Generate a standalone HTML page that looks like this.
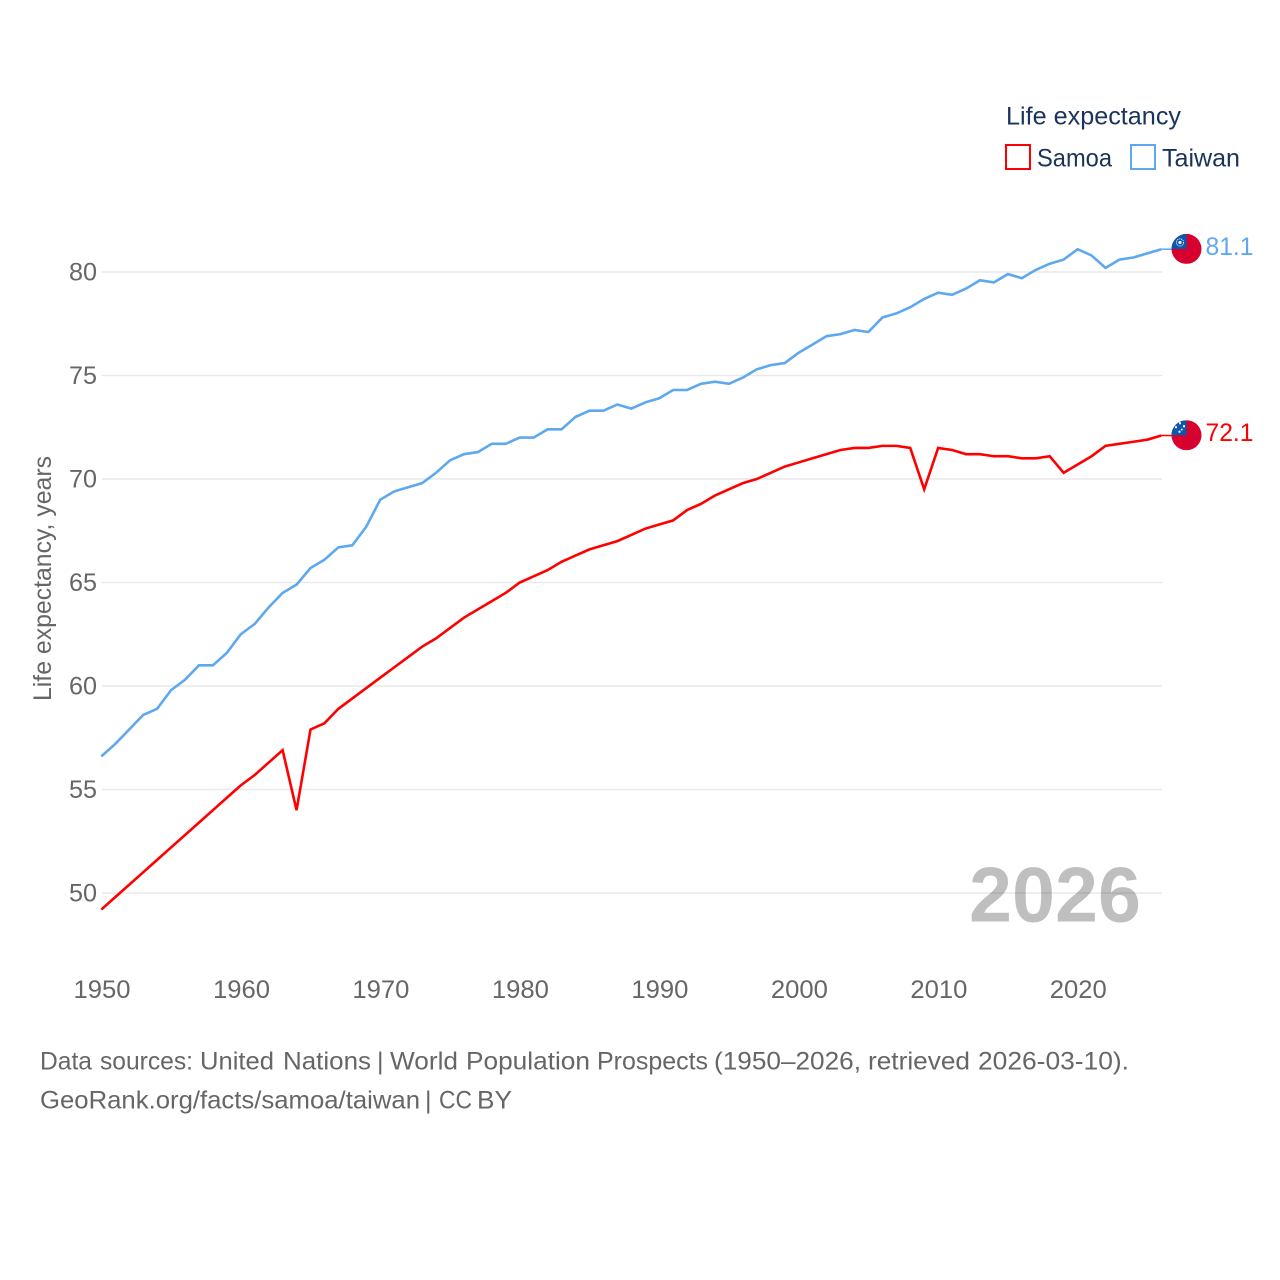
<!DOCTYPE html>
<html lang="en">
<head>
<meta charset="utf-8">
<title>Life expectancy: Samoa and Taiwan</title>
<style>
html,body{margin:0;padding:0;background:#fff;width:1280px;height:1280px;overflow:hidden}
svg{display:block}
text{font-family:"Liberation Sans",sans-serif}
</style>
</head>
<body>
<svg id="chart" width="1280" height="1280" viewBox="0 0 1280 1280" xmlns="http://www.w3.org/2000/svg">
  <defs>
    <clipPath id="flag-clip"><circle cx="0" cy="0" r="15"></circle></clipPath>
  </defs>
  <rect width="1280" height="1280" fill="#fff"></rect>
  <g id="grid"></g>
  <g id="yticks"></g>
  <g id="xticks"></g>
  <text transform="translate(51,701) rotate(-90)" font-size="25" fill="#666" textLength="245" lengthAdjust="spacingAndGlyphs">Life expectancy, years</text>
  <text x="969" y="921.5" font-size="78" font-weight="700" fill="#000" fill-opacity="0.25" textLength="172" lengthAdjust="spacingAndGlyphs">2026</text>
  <g id="series"></g>

  <g id="flag-taiwan">
    <g clip-path="url(#flag-clip)">
      <rect x="-15" y="-15" width="30" height="30" fill="#d8002f"></rect>
      <rect x="-15" y="-15" width="15" height="15" fill="#0b57ad"></rect>
      <circle cx="-6.5" cy="-6.5" r="3.6" fill="none" stroke="#dfe8f5" stroke-width="1" stroke-dasharray="1.2 0.8"></circle>
      <circle cx="-6.5" cy="-6.5" r="1.6" fill="#fff"></circle>
    </g>
  </g>
  <g id="flag-samoa">
    <g clip-path="url(#flag-clip)">
      <rect x="-15" y="-15" width="30" height="30" fill="#d8002f"></rect>
      <rect x="-15" y="-15" width="15" height="15" fill="#0b57ad"></rect>
      <rect x="-7.5" y="-13" width="2" height="2" fill="#fff"></rect>
      <rect x="-11.5" y="-9" width="2" height="2" fill="#fff"></rect>
      <rect x="-3.5" y="-10" width="2" height="2" fill="#fff"></rect>
      <rect x="-5.5" y="-6.5" width="1.6" height="1.6" fill="#fff"></rect>
      <rect x="-8" y="-4.5" width="2" height="2" fill="#fff"></rect>
    </g>
  </g>
  <text id="value-taiwan" x="1205.5" font-size="25" fill="#5ea8f0" textLength="48" lengthAdjust="spacingAndGlyphs"></text>
  <text id="value-samoa" x="1205.5" font-size="25" fill="#ff0000" textLength="48" lengthAdjust="spacingAndGlyphs"></text>

  <g>
    <text x="1006" y="124.5" font-size="25" fill="#1a3358" textLength="175" lengthAdjust="spacingAndGlyphs">Life expectancy</text>
    <g>
      <rect x="1006" y="145" width="24" height="24" fill="#fff" stroke="#ff0000" stroke-width="2"></rect>
      <text x="1037" y="166.5" font-size="25" fill="#1a3358" textLength="75" lengthAdjust="spacingAndGlyphs">Samoa</text>
    </g>
    <g>
      <rect x="1131" y="145" width="24" height="24" fill="#fff" stroke="#5ea8f0" stroke-width="2"></rect>
      <text x="1162" y="166.5" font-size="25" fill="#1a3358" textLength="78" lengthAdjust="spacingAndGlyphs">Taiwan</text>
    </g>
  </g>

  <text y="1069.5" font-size="25" fill="#666"><tspan x="40" textLength="52" lengthAdjust="spacingAndGlyphs">Data</tspan> <tspan x="100" textLength="93" lengthAdjust="spacingAndGlyphs">sources:</tspan> <tspan x="200" textLength="74" lengthAdjust="spacingAndGlyphs">United</tspan> <tspan x="283" textLength="88" lengthAdjust="spacingAndGlyphs">Nations</tspan> <tspan x="377">|</tspan> <tspan x="390" textLength="68" lengthAdjust="spacingAndGlyphs">World</tspan> <tspan x="466" textLength="124" lengthAdjust="spacingAndGlyphs">Population</tspan> <tspan x="597" textLength="111" lengthAdjust="spacingAndGlyphs">Prospects</tspan> <tspan x="714" textLength="147" lengthAdjust="spacingAndGlyphs">(1950–2026,</tspan> <tspan x="868" textLength="102" lengthAdjust="spacingAndGlyphs">retrieved</tspan> <tspan x="978" textLength="151" lengthAdjust="spacingAndGlyphs">2026-03-10).</tspan></text>
  <text y="1108.5" font-size="25" fill="#666"><tspan x="40" textLength="380" lengthAdjust="spacingAndGlyphs">GeoRank.org/facts/samoa/taiwan</tspan> <tspan x="425">|</tspan> <tspan x="439" textLength="33" lengthAdjust="spacingAndGlyphs">CC</tspan> <tspan x="477" textLength="35" lengthAdjust="spacingAndGlyphs">BY</tspan></text>
</svg>
<script>
const years = [1950,1951,1952,1953,1954,1955,1956,1957,1958,1959,1960,1961,1962,1963,1964,1965,1966,1967,1968,1969,1970,1971,1972,1973,1974,1975,1976,1977,1978,1979,1980,1981,1982,1983,1984,1985,1986,1987,1988,1989,1990,1991,1992,1993,1994,1995,1996,1997,1998,1999,2000,2001,2002,2003,2004,2005,2006,2007,2008,2009,2010,2011,2012,2013,2014,2015,2016,2017,2018,2019,2020,2021,2022,2023,2024,2025,2026];
const samoaValues = [49.2,49.8,50.4,51.0,51.6,52.2,52.8,53.4,54.0,54.6,55.2,55.7,56.3,56.9,54.0,57.9,58.2,58.9,59.4,59.9,60.4,60.9,61.4,61.9,62.3,62.8,63.3,63.7,64.1,64.5,65.0,65.3,65.6,66.0,66.3,66.6,66.8,67.0,67.3,67.6,67.8,68.0,68.5,68.8,69.2,69.5,69.8,70.0,70.3,70.6,70.8,71.0,71.2,71.4,71.5,71.5,71.6,71.6,71.5,69.5,71.5,71.4,71.2,71.2,71.1,71.1,71.0,71.0,71.1,70.3,70.7,71.1,71.6,71.7,71.8,71.9,72.1];
const taiwanValues = [56.6,57.2,57.9,58.6,58.9,59.8,60.3,61.0,61.0,61.6,62.5,63.0,63.8,64.5,64.9,65.7,66.1,66.7,66.8,67.7,69.0,69.4,69.6,69.8,70.3,70.9,71.2,71.3,71.7,71.7,72.0,72.0,72.4,72.4,73.0,73.3,73.3,73.6,73.4,73.7,73.9,74.3,74.3,74.6,74.7,74.6,74.9,75.3,75.5,75.6,76.1,76.5,76.9,77.0,77.2,77.1,77.8,78.0,78.3,78.7,79.0,78.9,79.2,79.6,79.5,79.9,79.7,80.1,80.4,80.6,81.1,80.8,80.2,80.6,80.7,80.9,81.1];
const yTickLabels = [50,55,60,65,70,75,80];
const xTickLabels = [1950,1960,1970,1980,1990,2000,2010,2020];

const NS = 'http://www.w3.org/2000/svg';
function xScale(year) { return 102 + (year - 1950) * (1162 - 102) / 76; }
function yScale(value) { return 893 - (value - 50) * (893 - 272) / 30; }
function make(tag, attrs, parent, text) {
  const el = document.createElementNS(NS, tag);
  for (const k in attrs) el.setAttribute(k, attrs[k]);
  if (text !== undefined) el.textContent = text;
  parent.appendChild(el);
  return el;
}

const grid = document.getElementById('grid');
const yticks = document.getElementById('yticks');
const xticks = document.getElementById('xticks');
yTickLabels.forEach(function (t) {
  const line = make('line', {x1: 102, x2: 1162, y1: yScale(t), y2: yScale(t), stroke: '#e9e9e9', 'stroke-width': 1.5}, grid);
  
  
  const label = make('text', {x: 69, y: yScale(t) + 8.5, 'font-size': 25, fill: '#666', textLength: 28, lengthAdjust: 'spacingAndGlyphs'}, yticks, String(t));
  
  
});
xTickLabels.forEach(function (t) {
  const label = make('text', {x: xScale(t) - 28.5, y: 998, 'font-size': 25, fill: '#666', textLength: 57, lengthAdjust: 'spacingAndGlyphs'}, xticks, String(t));
  
  
});

const seriesGroup = document.getElementById('series');
function drawSeries(values, color, key) {
  const pts = values.map(function (v, i) { return (xScale(years[i]) - 0.7).toFixed(2) + ',' + yScale(v).toFixed(2); });
  const line = make('polyline', {points: pts.join(' '), fill: 'none', stroke: color, 'stroke-width': 2.6, 'stroke-linejoin': 'miter'}, seriesGroup);
  
  
  const last = values[values.length - 1];
  const yEnd = yScale(last);
  const lead = make('line', {x1: xScale(years[years.length - 1]) - 0.7, x2: 1172, y1: yEnd, y2: yEnd, stroke: color, 'stroke-width': 1.5}, seriesGroup);
  
  
  document.getElementById('flag-' + key).setAttribute('transform', 'translate(1186.5,' + (yEnd - 0.3).toFixed(2) + ')');
  const val = document.getElementById('value-' + key);
  val.setAttribute('y', (yEnd + 5.7).toFixed(2));
  val.textContent = last.toFixed(1);
}
drawSeries(taiwanValues, '#5ea8f0', 'taiwan');
drawSeries(samoaValues, '#ff0000', 'samoa');
</script>
</body>
</html>
